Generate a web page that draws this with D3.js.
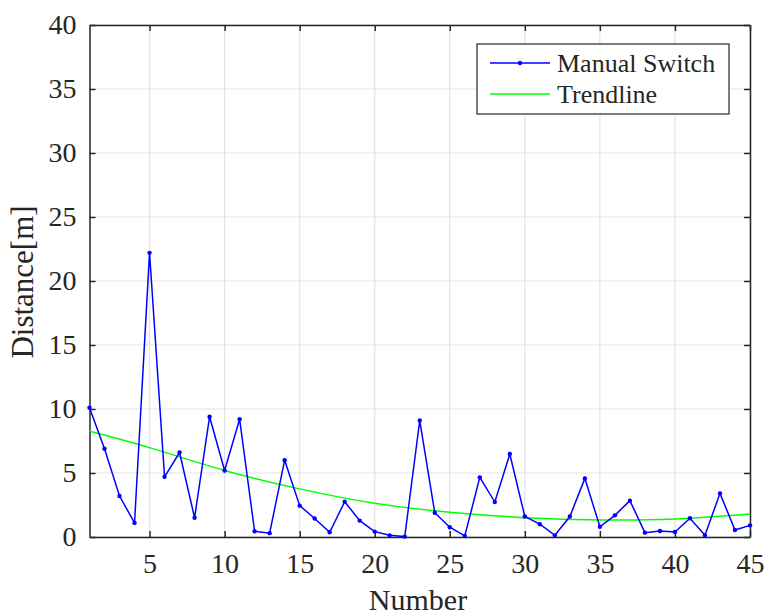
<!DOCTYPE html>
<html><head><meta charset="utf-8">
<script src="https://cdn.jsdelivr.net/npm/d3@7"></script>
<style>body{margin:0;background:#fff}svg text{font-family:"Liberation Serif","Times New Roman",serif !important;fill:#262626}</style>
</head><body><svg id="c" width="769" height="615"></svg>
<script>
const numbers = d3.range(1, 46);
const distance = [10.1,6.9,3.2,1.1,22.2,4.7,6.6,1.5,9.4,5.2,9.2,0.45,0.3,6.0,2.45,1.45,0.37,2.76,1.28,0.42,0.13,0.03,9.1,1.9,0.76,0.08,4.66,2.73,6.48,1.6,1.0,0.13,1.6,4.58,0.8,1.69,2.84,0.34,0.47,0.39,1.46,0.13,3.41,0.55,0.91];
const trendX = [1,5,10,15,20,25,30,35,40,45];
const trendY = [8.26,6.98,5.2,3.76,2.63,1.93,1.51,1.33,1.41,1.8];
const xTicks = [5,10,15,20,25,30,35,40,45];
const yTicks = [0,5,10,15,20,25,30,35,40];
const legendLabels = ["Manual Switch","Trendline"];

const L=89.5,R=750,T=25,B=537;
const SERIF='"Liberation Serif","Times New Roman",serif';
const svg=d3.select("#c");
const x=d3.scaleLinear().domain([1,45]).range([L,R]);
const y=d3.scaleLinear().domain([0,40]).range([B,T]);

// grid
svg.append("g").selectAll("line").data(xTicks).join("line")
 .attr("x1",d=>x(d)).attr("x2",d=>x(d)).attr("y1",T).attr("y2",B).attr("stroke","#e3e3e3").attr("stroke-width",1.2);
svg.append("g").selectAll("line").data(yTicks).join("line")
 .attr("y1",d=>y(d)).attr("y2",d=>y(d)).attr("x1",L).attr("x2",R).attr("stroke","#e3e3e3").attr("stroke-width",1.2);

// axes
const ax=svg.append("g").attr("transform",`translate(0,${B})`).call(d3.axisBottom(x).tickValues(xTicks).tickSizeInner(-6).tickSizeOuter(0));
const ay=svg.append("g").attr("transform",`translate(${L},0)`).call(d3.axisLeft(y).tickValues(yTicks).tickSizeInner(-6).tickSizeOuter(0).tickPadding(13));
const at=svg.append("g").attr("transform",`translate(0,${T})`).call(d3.axisTop(x).tickValues(xTicks).tickSizeInner(-6).tickSizeOuter(0).tickFormat(""));
const ar=svg.append("g").attr("transform",`translate(${R},0)`).call(d3.axisRight(y).tickValues(yTicks).tickSizeInner(-6).tickSizeOuter(0).tickFormat(""));
[ax,ay,at,ar].forEach(g=>{
 g.attr("font-family",SERIF).attr("font-size",28);
 g.selectAll("path,line").attr("stroke","#262626").attr("stroke-width",1.5);
 g.selectAll("text").attr("fill","#262626");});
ax.selectAll("text").attr("y",36).attr("dy",null);

// lines
const trend=d3.line().x((d,i)=>x(trendX[i])).y(d=>y(d)).curve(d3.curveNatural);
svg.append("path").attr("d",trend(trendY)).attr("fill","none").attr("stroke","#00ff00").attr("stroke-width",1.5);
const line=d3.line().x((d,i)=>x(numbers[i])).y(d=>y(d));
svg.append("path").attr("d",line(distance)).attr("fill","none").attr("stroke","#0000ff").attr("stroke-width",1.5);
svg.append("g").selectAll("circle").data(distance).join("circle")
 .attr("cx",(d,i)=>x(numbers[i])).attr("cy",d=>y(d)).attr("r",2.2).attr("fill","#0000ff");

// labels
svg.append("text").attr("x",418).attr("y",610).attr("text-anchor","middle").attr("font-size",30).text("Number");
svg.append("text").attr("transform",`translate(33,282) rotate(-90)`).attr("text-anchor","middle").attr("font-size",31).text("Distance[m]");

// legend
const lg=svg.append("g");
lg.append("rect").attr("x",477).attr("y",44).attr("width",252).attr("height",70).attr("fill","#fff").attr("stroke","#262626").attr("stroke-width",1.2);
const cols=["#0000ff","#00ff00"];
legendLabels.forEach((t,i)=>{
 const yy=63+i*31;
 lg.append("line").attr("x1",490).attr("x2",550).attr("y1",yy).attr("y2",yy).attr("stroke",cols[i]).attr("stroke-width",1.5);
 if(i===0) lg.append("circle").attr("cx",520).attr("cy",yy).attr("r",2.2).attr("fill",cols[i]);
 lg.append("text").attr("x",557).attr("y",yy).attr("dy","0.35em").attr("font-size",26).text(t);
});
</script></body></html>
